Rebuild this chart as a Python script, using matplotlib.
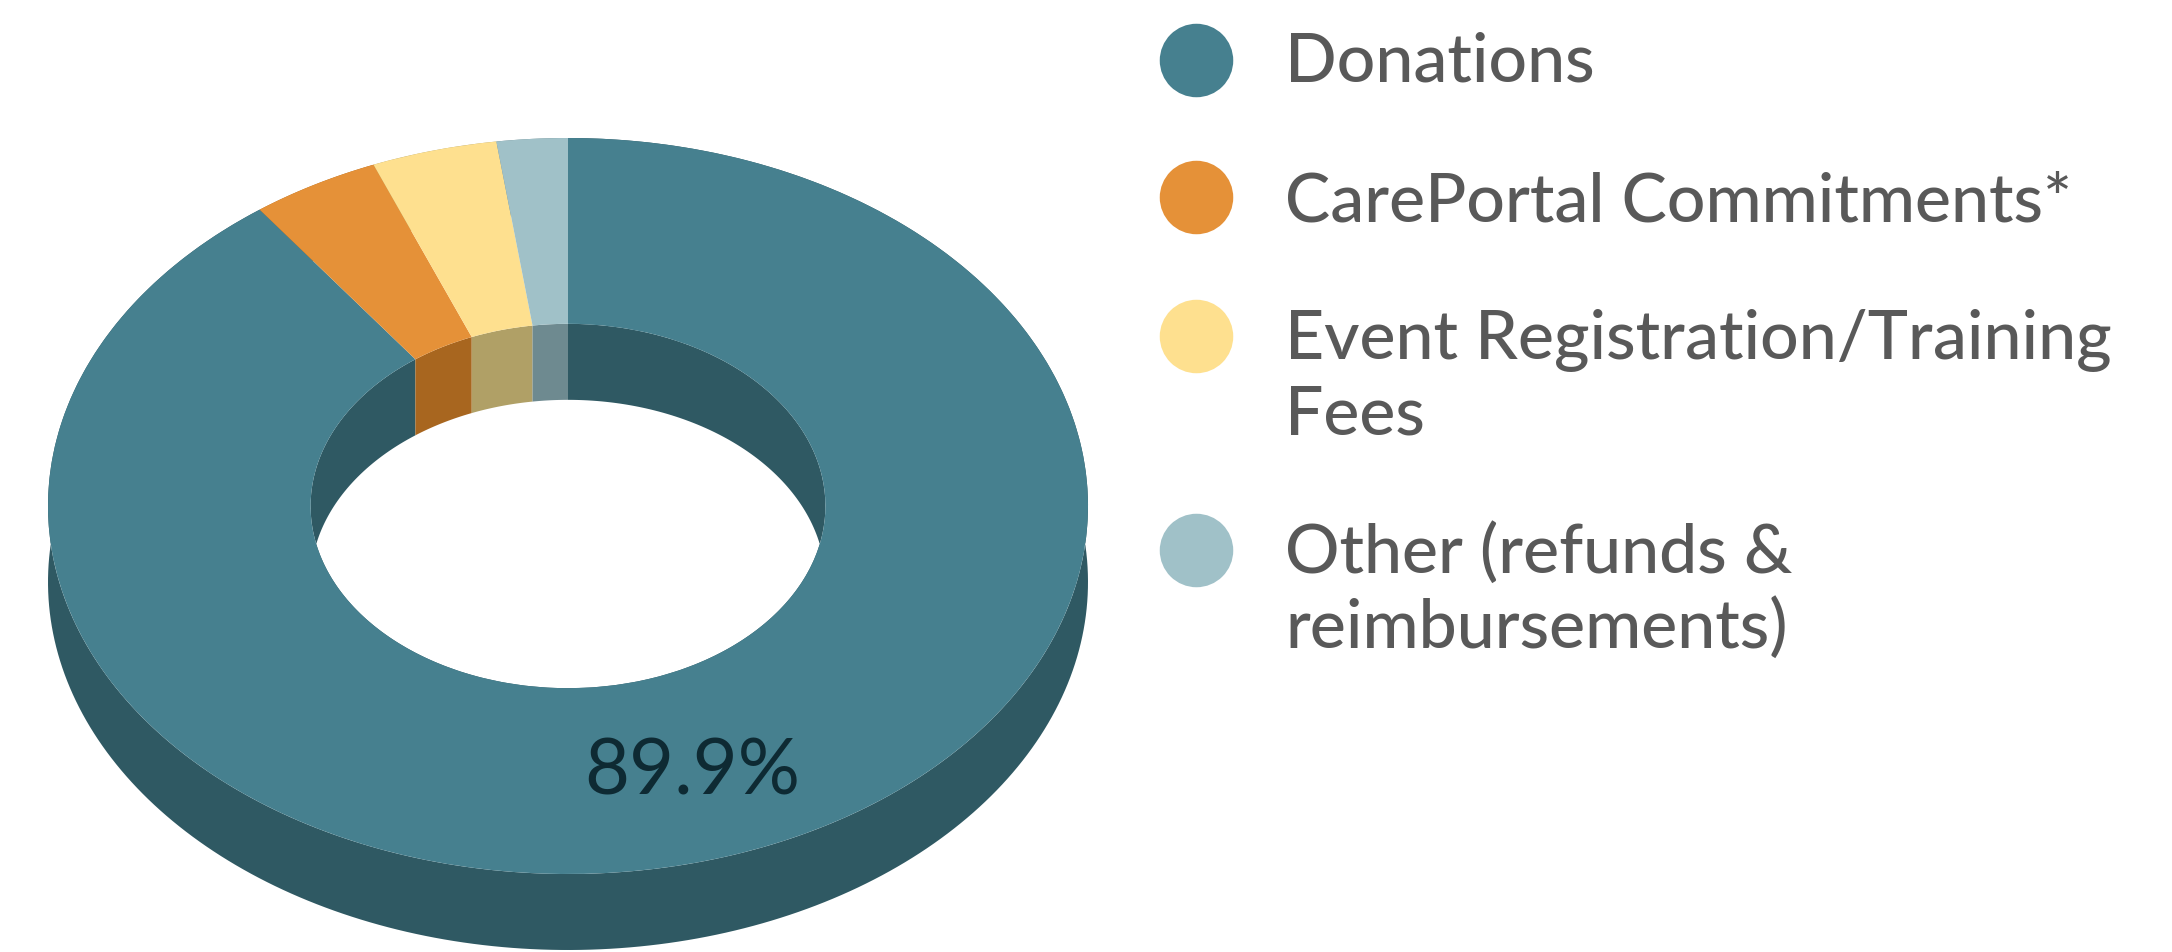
import numpy as np
import matplotlib
matplotlib.use("Agg")
import matplotlib.pyplot as plt

labels = ["Donations", "CarePortal Commitments*", "Event Registration/Training\nFees", "Other (refunds &\nreimbursements)"]
values = [89.9, 4.0, 3.9, 2.2]
face_colors = ["#46808F", "#E59138", "#FEE08F", "#A0C1C8"]
wall_colors = ["#2F5963", "#A8661F", "#B0A066", "#6E8A90"]
value_label = "89.9%"

W, H = 2172, 953
CX, CY, A, B = 568, 507, 520, 368
DEPTH = 76 / B
R_IN = 0.495

plt.rcParams['font.family'] = ['Lato', 'DejaVu Sans']
fig = plt.figure(figsize=(W / 100, H / 100), dpi=100, facecolor='white')
ax = fig.add_axes([0, 0, 1, 1])

# side walls, built from the slice angles
fracs = np.array(values) / sum(values)
edges = 90 - 360 * np.concatenate([[0], np.cumsum(fracs)])

def wall(radius, start, stop, color, z):
    t = np.radians(np.linspace(start, stop, 300))
    x, y = radius * np.cos(t), radius * np.sin(t)
    ax.fill(np.r_[x, x[::-1]], np.r_[y, y[::-1] - DEPTH], color=color, lw=0, zorder=z)

for i, c in enumerate(wall_colors):
    wall(1.0, edges[i], edges[i + 1], c, 1)
    wall(R_IN, edges[i], edges[i + 1], c, 1)

wedges, _ = ax.pie(values, colors=face_colors, startangle=90, counterclock=False,
                   radius=1.0, wedgeprops=dict(width=1 - R_IN, linewidth=0, zorder=2))
for w in wedges:
    w.set_zorder(2)

ax.set_aspect('auto')
ax.set_xlim(-CX / A, (W - CX) / A)
ax.set_ylim((CY - H) / B, CY / B)
ax.axis('off')

ax.text((692 - CX) / A, (CY - 773) / B, value_label, ha='center', va='center',
        fontsize=56, color='#0E2A33', zorder=5)

# legend
lax = fig.add_axes([0, 0, 1, 1], facecolor='none')
lax.set_xlim(0, W)
lax.set_ylim(H, 0)
lax.axis('off')
key_y = [61, 198, 337, 551]
text_y = [63, 203, 378, 591]
for lab, c, ky, ty in zip(labels, face_colors, key_y, text_y):
    lax.scatter([1196], [ky], s=2800, color=c, linewidths=0)
    lax.text(1285, ty, lab, ha='left', va='center', fontsize=49, color='#595959',
             fontweight='medium', linespacing=1.25)

fig.savefig("out.png", dpi=100, facecolor='white')
